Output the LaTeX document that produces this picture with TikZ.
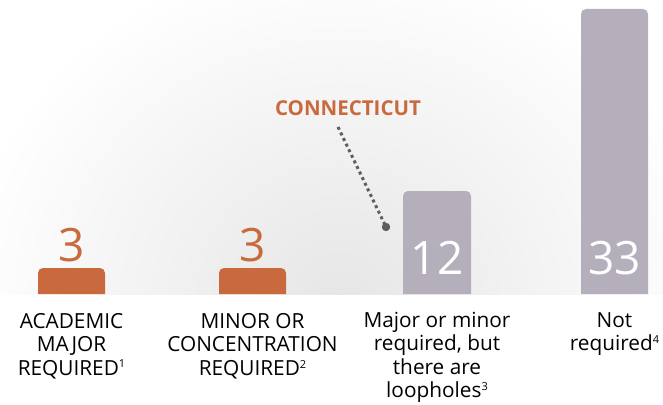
\documentclass[tikz,border=0pt]{standalone}
\usepackage{fontspec}
\setmainfont{Open Sans}
\definecolor{orng}{HTML}{C86A3E}
\definecolor{barg}{HTML}{B5AFBC}
\definecolor{dotg}{HTML}{5E5E62}
\definecolor{bgg}{HTML}{E6E6E6}
\tikzset{
  barshape/.style={rounded corners=5pt},
  bignum/.style={font=\fontsize{46}{46}\selectfont, inner sep=0pt, anchor=center},
  catlabel/.style={font=\fontsize{20.8}{23.5}\selectfont, align=center, anchor=north, inner sep=0pt, text=black},
}
\newcommand{\supnum}[1]{\raisebox{0.35em}{\fontsize{11}{11}\selectfont #1}}
\begin{document}
\begin{tikzpicture}[x=1pt,y=-1pt]
\useasboundingbox (0,0) rectangle (663,404);
\begin{scope}
  \clip (0,0) rectangle (663,294);
  \shade[inner color=bgg, outer color=white] (340,300) ellipse (380 and 350);
\end{scope}
% bars
\fill[orng, barshape] (38,294) -- (38,268) -- (105,268) -- (105,294);
\fill[orng, barshape] (219,294) -- (219,268) -- (286,268) -- (286,294);
\fill[barg, barshape] (403,294) -- (403,191) -- (471,191) -- (471,294);
\fill[barg, barshape] (581,294) -- (581,9) -- (648,9) -- (648,294);
% numbers
\node[bignum, text=orng] (n1) at (71.5,245) {3};
\node[bignum, text=orng] (n2) at (252.5,245) {3};
\node[bignum, text=white] (n3) at (437,258) {12};
\node[bignum, text=white] (n4) at (614.5,258) {33};
% callout
\node[font=\fontsize{20.5}{20.5}\selectfont\bfseries, text=orng, inner sep=0pt] (ct) at (348,108) {CONNECTICUT};
\coordinate (dotend) at (386,227);
\draw[dotg, line width=3pt, dash pattern=on 3pt off 3.2pt] (338,127) -- (dotend);
\fill[dotg] (dotend) circle (4.2);
% labels
\node[catlabel] (l1) at (71.5,313) {ACADEMIC\\MAJOR\\REQUIRED\supnum{1}};
\node[catlabel] (l2) at (252.5,313) {MINOR OR\\CONCENTRATION\\REQUIRED\supnum{2}};
\node[catlabel] (l3) at (437,312) {Major or minor\\required, but\\there are\\loopholes\supnum{3}};
\node[catlabel] (l4) at (614.5,312) {Not\\required\supnum{4}};
\end{tikzpicture}
\end{document}
